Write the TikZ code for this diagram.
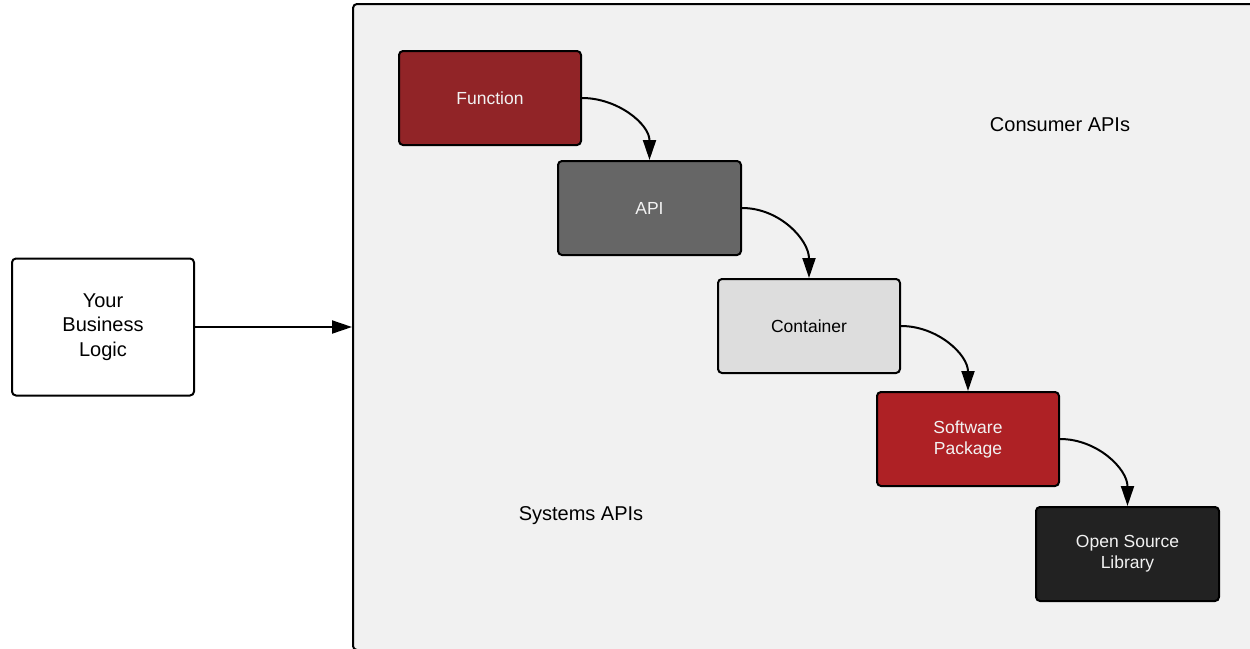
\documentclass[tikz,border=0pt]{standalone}
\usepackage{fontspec}
\setmainfont{Liberation Sans}
\usetikzlibrary{arrows.meta}
\definecolor{fnred}{HTML}{912427}
\definecolor{pkred}{HTML}{AE2125}
\definecolor{apigray}{HTML}{666666}
\definecolor{contgray}{HTML}{DDDDDD}
\definecolor{libblack}{HTML}{222222}
\definecolor{sysbg}{HTML}{F1F1F1}
\definecolor{txtwhite}{HTML}{F2F2F2}
\tikzset{
  box/.style={draw=black, line width=2pt, rounded corners=4pt,
    minimum width=182pt, minimum height=94pt, align=center, inner sep=0pt,
    font=\fontsize{17.5}{21}\selectfont},
  darkbox/.style={box, text=txtwhite},
  lbl/.style={font=\fontsize{20}{24.5}\selectfont},
  flow/.style={line width=2pt, -{Triangle[length=20pt,width=13pt]}},
}
\begin{document}
\begin{tikzpicture}[x=1pt,y=-1pt]
\useasboundingbox (0,0) rectangle (1250,648);
\clip (0,0) rectangle (1250,648);
\fill[white] (0,0) rectangle (1250,648);
\node[draw=black, line width=2pt, rounded corners=4pt, fill=sysbg,
  minimum width=912pt, minimum height=646pt, inner sep=0pt] (sys) at (809,327) {};
\node[lbl] (consumer) at (1060,125) {Consumer APIs};
\node[lbl] (systems) at (581,516) {Systems APIs};
\node[box, fill=white, minimum height=137pt, font=\fontsize{20}{24.5}\selectfont] (biz) at (103,327) {Your\\Business\\Logic};
\node[darkbox, fill=fnred] (fn) at (490,98) {Function};
\node[darkbox, fill=apigray, minimum width=183pt] (api) at (649.5,208) {API};
\node[box, fill=contgray] (cont) at (809,326) {Container};
\node[darkbox, fill=pkred] (pkg) at (968,439) {Software\\Package};
\node[darkbox, fill=libblack, minimum width=183pt] (lib) at (1127.5,554) {Open Source\\Library};
\draw[flow] (biz.east) -- (sys.west);
\draw[flow] (fn.east) to[out=0,in=90] (api.north);
\draw[flow] (api.east) to[out=0,in=90] (cont.north);
\draw[flow] (cont.east) to[out=0,in=90] (pkg.north);
\draw[flow] (pkg.east) to[out=0,in=90] (lib.north);
\end{tikzpicture}
\end{document}
